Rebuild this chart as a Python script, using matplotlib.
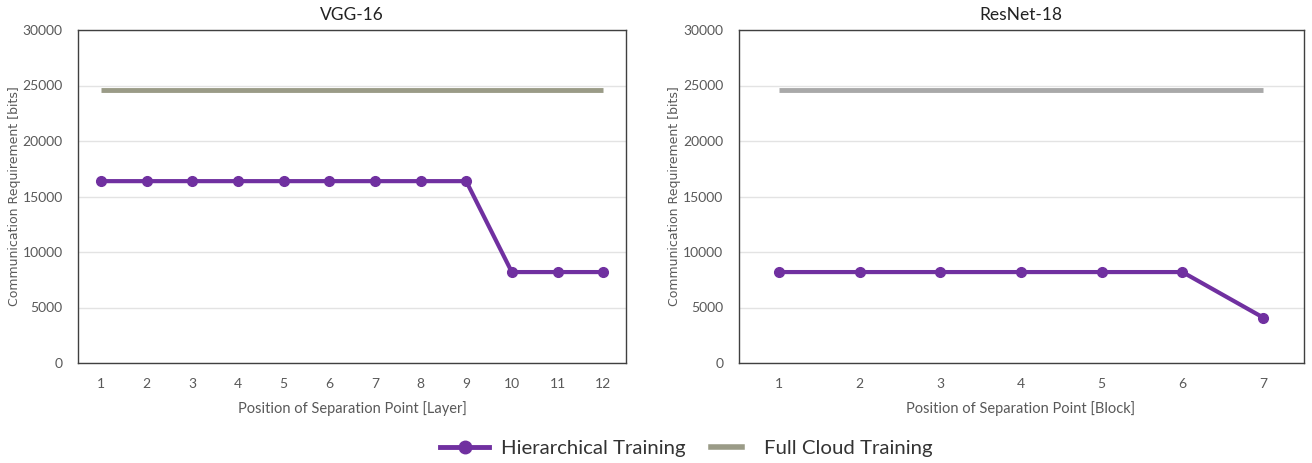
import matplotlib
matplotlib.use("Agg")
import matplotlib.pyplot as plt
from matplotlib.lines import Line2D
from matplotlib.legend_handler import HandlerLine2D

vgg_positions = [1, 2, 3, 4, 5, 6, 7, 8, 9, 10, 11, 12]
vgg_hier = [16384, 16384, 16384, 16384, 16384, 16384, 16384, 16384, 16384, 8192, 8192, 8192]
vgg_cloud = [24576] * 12

res_positions = [1, 2, 3, 4, 5, 6, 7]
res_hier = [8192, 8192, 8192, 8192, 8192, 8192, 4096]
res_cloud = [24576] * 7

yticks = [0, 5000, 10000, 15000, 20000, 25000, 30000]

PURPLE = "#7030A0"
GREY_VGG = "#9A9B87"
GREY_RES = "#A9A9A9"
TXT = "#595959"

fig = plt.figure(figsize=(13.12, 4.63), dpi=100)
ax1 = fig.add_axes([78/1312, 1-363/463, 548/1312, 333/463])
ax2 = fig.add_axes([738.5/1312, 1-363/463, 565/1312, 333/463])

def style(ax, positions, title, xlabel, ylab_px):
    ax.set_xlim(positions[0]-0.5, positions[-1]+0.5)
    ax.set_ylim(0, 30000)
    ax.set_yticks(yticks)
    ax.set_yticklabels([str(v) for v in yticks])
    ax.set_xticks(positions)
    ax.set_xticklabels([str(p) for p in positions])
    ax.grid(axis="y", color="#E3E3E3", linewidth=1)
    ax.set_axisbelow(True)
    ax.tick_params(length=0, labelsize=10, labelcolor=TXT, pad=11)
    for lab in ax.get_xticklabels() + ax.get_yticklabels():
        lab.set_family("Lato")
    for s in ax.spines.values():
        s.set_color("#404040")
        s.set_linewidth(1.0)
    ax.set_title(title, fontsize=12.5, family="Lato", color="#222222", pad=7)
    ax.set_xlabel(xlabel, fontsize=10.5, family="Lato", color=TXT, labelpad=8)
    ax.set_ylabel("Communication Requirement [bits]", fontsize=9, family="DejaVu Sans", color=TXT)
    x0 = ax.get_position().x0 * 1312
    w = ax.get_position().width * 1312
    ax.yaxis.set_label_coords((ylab_px - x0) / w, 0.5)

ax1.plot(vgg_positions, vgg_cloud, color=GREY_VGG, linewidth=3.5, solid_capstyle="butt")
ax1.plot(vgg_positions, vgg_hier, color=PURPLE, linewidth=3, marker="o", markersize=7)
style(ax1, vgg_positions, "VGG-16", "Position of Separation Point [Layer]", 21)

ax2.plot(res_positions, res_cloud, color=GREY_RES, linewidth=3.5, solid_capstyle="butt")
ax2.plot(res_positions, res_hier, color=PURPLE, linewidth=3, marker="o", markersize=7)
style(ax2, res_positions, "ResNet-18", "Position of Separation Point [Block]", 681)


class ShortLine(HandlerLine2D):
    def create_artists(self, legend, orig_handle, xdescent, ydescent,
                       width, height, fontsize, trans):
        frac = 0.63
        neww = width * frac
        off = (width - neww) / 2
        return super().create_artists(legend, orig_handle, xdescent - off, ydescent,
                                      neww, height, fontsize, trans)


handles = [
    Line2D([], [], color=PURPLE, linewidth=3.5, marker="o", markersize=9),
    Line2D([], [], color=GREY_VGG, linewidth=4),
]
fig.legend(handles, ["Hierarchical Training", "Full Cloud Training"], loc="center",
           bbox_to_anchor=(0.523, 1-448/463), ncol=2, frameon=False,
           prop={"family": "Lato", "size": 14.7}, labelcolor="#333333",
           handlelength=2.4, columnspacing=0.8, handletextpad=0.6,
           handler_map={handles[1]: ShortLine()})

fig.savefig("out.png", dpi=100)
